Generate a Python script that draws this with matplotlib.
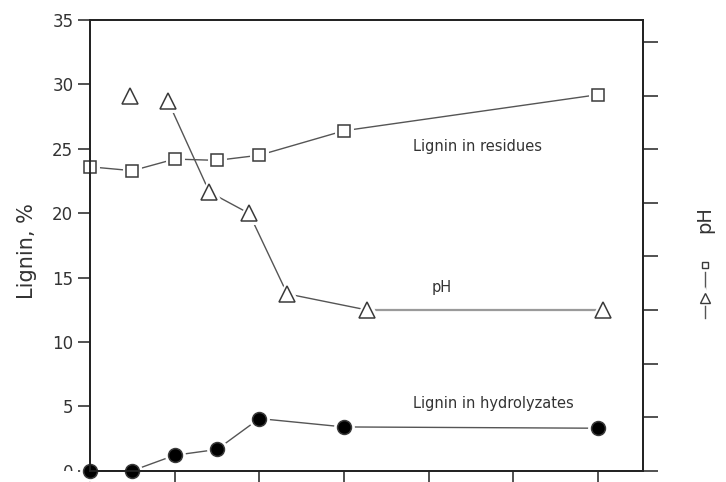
import matplotlib
matplotlib.use("Agg")
import matplotlib.pyplot as plt
from matplotlib.lines import Line2D
from matplotlib.transforms import Bbox, TransformedBbox

# time points and measured series
x_lignin = [0, 0.5, 1, 1.5, 2, 3, 6]
lignin_residues = [23.6, 23.3, 24.2, 24.1, 24.5, 26.4, 29.2]
lignin_hydrolyzates = [0, 0, 1.2, 1.65, 4.05, 3.4, 3.3]

x_ph = [0.47, 0.92, 1.41, 1.88, 2.33, 3.27, 6.06]
ph_values = [7.0, 6.9, 5.2, 4.8, 3.3, 3.0, 3.0]

left_ticks = [0, 5, 10, 15, 20, 25, 30, 35]
right_ticks = [0, 1, 2, 3, 4, 5, 6, 7, 8]
bottom_ticks = [0, 1, 2, 3, 4, 5, 6]

LINE = "#555555"
EDGE = "#3a3a3a"
SPINE = "#222222"


def markers(ax, x, y, marker, ms, face):
    # white halo first so the connecting line stops short of each symbol
    ax.plot(x, y, ls="none", marker=marker, ms=ms, mfc="white", mec="white",
            mew=5, zorder=2.2, clip_on=False)
    ax.plot(x, y, ls="none", marker=marker, ms=ms, mfc=face, mec=EDGE,
            mew=1.1, zorder=3, clip_on=False)


fig = plt.figure(figsize=(7.26, 4.82), dpi=100)
ax = fig.add_axes([0.1240, 0.0234, 0.7613, 0.9351])

ax.plot(x_lignin, lignin_residues, color=LINE, lw=1.0, zorder=2)
markers(ax, x_lignin, lignin_residues, "s", 9, "white")

ax.plot(x_lignin, lignin_hydrolyzates, color=LINE, lw=1.0, zorder=2)
markers(ax, x_lignin, lignin_hydrolyzates, "o", 10, "black")

ax.set_xlim(0, 6.53)
ax.set_ylim(0, 35)
ax.set_yticks(left_ticks)
ax.set_xticks(bottom_ticks)
ax.set_xticklabels([])
ax.tick_params(axis="y", direction="out", length=9, width=1.1, pad=3,
               labelsize=12, labelcolor="#333333", color=SPINE)
ax.tick_params(axis="x", direction="out", length=9, width=1.1, color=SPINE)
for s in ax.spines.values():
    s.set_linewidth(1.3)
    s.set_color(SPINE)

# pH on its own scale, no tick labels
ax2 = ax.twinx()
ax2.plot(x_ph[1:6], ph_values[1:6], color=LINE, lw=1.0, zorder=2)
ax2.plot(x_ph[5:], ph_values[5:], color="#9a9a9a", lw=1.6, zorder=2)
markers(ax2, x_ph, ph_values, "^", 12, "white")
ax2.set_ylim(0, 8.41)
ax2.set_yticks(right_ticks)
ax2.set_yticklabels([])
ax2.tick_params(axis="y", direction="out", length=11, width=1.1, color=SPINE)
for s in ax2.spines.values():
    s.set_linewidth(1.3)
    s.set_color(SPINE)

ax.text(4.58, 25.2, "Lignin in residues", fontsize=10.5, color="#333333",
        ha="center", va="center")
ax.text(4.15, 14.2, "pH", fontsize=10.5, color="#333333",
        ha="center", va="center")
ax.text(4.77, 5.2, "Lignin in hydrolyzates", fontsize=10.5, color="#333333",
        ha="center", va="center")

fig.text(27 / 726, 1 - 251 / 482, "Lignin, %", fontsize=15, rotation=90,
         ha="center", va="center", color="#333333")
fig.text(705 / 726, 1 - 220 / 482, "pH", fontsize=14, rotation=90,
         ha="center", va="center", color="#333333")

# small key under the pH title
fx = 705 / 726
fig.add_artist(Line2D([fx, fx], [1 - 318 / 482, 1 - 272 / 482],
                      transform=fig.transFigure, color=LINE, lw=1.0))
fig.add_artist(Line2D([fx], [1 - 298 / 482], transform=fig.transFigure,
                      marker="^", ms=7, mfc="white", mec="white", mew=4, ls="none"))
fig.add_artist(Line2D([fx], [1 - 298 / 482], transform=fig.transFigure,
                      marker="^", ms=7, mfc="white", mec=EDGE, mew=1.0, ls="none"))
fig.add_artist(Line2D([fx], [1 - 265 / 482], transform=fig.transFigure,
                      marker="s", ms=5, mfc="white", mec="white", mew=4, ls="none"))
fig.add_artist(Line2D([fx], [1 - 265 / 482], transform=fig.transFigure,
                      marker="s", ms=5, mfc="white", mec=EDGE, mew=1.0, ls="none"))

# the "0" label is cut at the x axis line
zero_label = ax.yaxis.get_major_ticks()[0].label1
zero_label.set_clip_box(TransformedBbox(Bbox([[-1, 0], [2, 2]]), ax.transAxes))
zero_label.set_clip_on(True)

fig.savefig("out.png", dpi=100)
